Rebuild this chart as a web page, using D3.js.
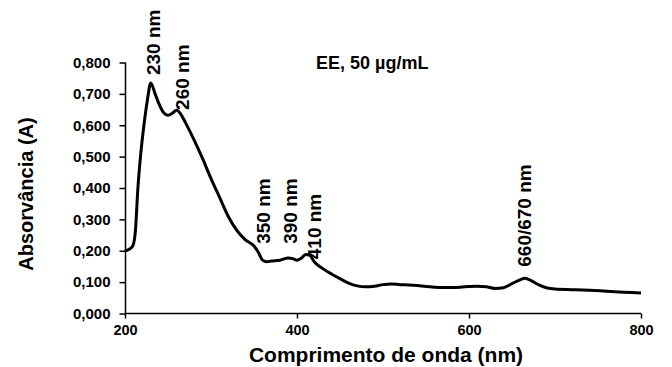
<!DOCTYPE html>
<html lang="pt-br">
<head>
<meta charset="utf-8">
<script src="https://d3js.org/d3.v7.min.js"></script>
<style>
  body { margin: 0; background: #fff; }
  text { font-family: "Liberation Sans", Arial, sans-serif; font-weight: bold; fill: #000; }
  .curva { fill: none; stroke: #000; stroke-width: 3; stroke-linejoin: round; }
  .eixo path, .eixo line { stroke: #000; stroke-width: 1.5; }
</style>
</head>
<body>
<svg id="espectro" width="672" height="367"></svg>
<script>
var comprimento = [200, 205, 209, 212, 215, 218, 222, 226, 230, 235, 240, 245, 250, 255, 260, 265, 270, 280, 290, 300, 310, 320, 330, 340, 350, 355, 360, 365, 370, 380, 390, 395, 400, 405, 410, 415, 420, 430, 440, 450, 460, 470, 480, 490, 500, 510, 520, 530, 540, 550, 560, 570, 580, 590, 600, 610, 620, 630, 640, 650, 660, 665, 670, 680, 690, 700, 720, 740, 760, 780, 800];
var absorvancia = [0.200, 0.205, 0.215, 0.26, 0.40, 0.50, 0.60, 0.68, 0.735, 0.70, 0.665, 0.64, 0.632, 0.638, 0.648, 0.635, 0.61, 0.555, 0.495, 0.43, 0.37, 0.31, 0.265, 0.235, 0.215, 0.195, 0.170, 0.165, 0.167, 0.170, 0.177, 0.175, 0.170, 0.176, 0.188, 0.185, 0.165, 0.143, 0.126, 0.111, 0.097, 0.088, 0.085, 0.087, 0.092, 0.094, 0.092, 0.091, 0.089, 0.086, 0.084, 0.083, 0.083, 0.084, 0.086, 0.087, 0.085, 0.080, 0.082, 0.095, 0.108, 0.112, 0.108, 0.093, 0.082, 0.078, 0.076, 0.074, 0.071, 0.068, 0.065];

// rótulos dos picos
var picosTexto = ["230 nm", "260 nm", "350 nm", "390 nm", "410 nm", "660/670 nm"];
var picosX = [233, 267, 361, 392, 420, 664];
var picosY = [0.760, 0.649, 0.222, 0.222, 0.173, 0.149];

var ticksX = [200, 400, 600, 800];
var ticksY = [0, 0.1, 0.2, 0.3, 0.4, 0.5, 0.6, 0.7, 0.8];

var svg = d3.select("#espectro");

var x = d3.scaleLinear().domain([200, 800]).range([125, 641]);
var y = d3.scaleLinear().domain([0, 0.8]).range([313.5, 62.5]);

var virgula = d3.format(".3f");

svg.append("g")
  .attr("class", "eixo")
  .attr("transform", "translate(0,313.5)")
  .call(d3.axisBottom(x).tickValues(ticksX).tickSize(5).tickPadding(6).tickFormat(d3.format("d")))
  .call(g => g.select(".domain").attr("d", "M125,0H641"))
  .selectAll("text").style("font-size", "14.5px").style("font-family", "Liberation Sans, Arial").style("font-weight", "bold");

svg.append("g")
  .attr("class", "eixo")
  .attr("transform", "translate(125.5,0)")
  .call(d3.axisLeft(y).tickValues(ticksY).tickSize(6).tickPadding(9).tickFormat(d => virgula(d).replace(".", ",")))
  .call(g => g.select(".domain").attr("d", "M0,62.5V313.5"))
  .selectAll("text").style("font-size", "15px").style("font-family", "Liberation Sans, Arial").style("font-weight", "bold");

var linha = d3.line()
  .x((d, i) => x(comprimento[i]))
  .y(d => y(d))
  .curve(d3.curveMonotoneX);

svg.append("path")
  .attr("class", "curva")
  .attr("d", linha(absorvancia));

// rótulos verticais dos picos
svg.append("g")
  .selectAll("text")
  .data(picosTexto)
  .enter()
  .append("text")
  .attr("transform", (d, i) => "translate(" + x(picosX[i]) + "," + y(picosY[i]) + ") rotate(-90)")
  .attr("dy", "0.36em")
  .style("font-size", "19px")
  .text(d => d);

svg.append("text")
  .attr("x", 316)
  .attr("y", 69)
  .style("font-size", "18px")
  .text("EE, 50 µg/mL");

svg.append("text")
  .attr("x", 386)
  .attr("y", 362)
  .attr("text-anchor", "middle")
  .style("font-size", "21px")
  .text("Comprimento de onda (nm)");

svg.append("text")
  .attr("transform", "translate(33,194) rotate(-90)")
  .attr("text-anchor", "middle")
  .style("font-size", "20px")
  .text("Absorvância (A)");
</script>
</body>
</html>
